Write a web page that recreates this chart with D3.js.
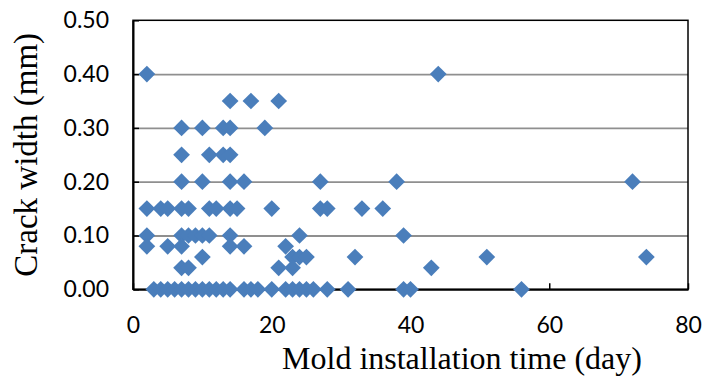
<!DOCTYPE html>
<html>
<head>
<meta charset="utf-8">
<script src="https://cdn.jsdelivr.net/npm/d3@7"></script>
<style>
  body { margin: 0; background: #fff; }
  svg { display: block; }
</style>
</head>
<body>
<svg id="chart" width="704" height="380"></svg>
<script>
// data, grouped by crack width row
const moldDays = [
  2, 44,
  14, 17, 21,
  7, 10, 13, 14, 19,
  7, 11, 13, 14,
  7, 10, 14, 16, 27, 38, 72,
  2, 4, 5, 7, 8, 11, 12, 14, 15, 20, 27, 28, 33, 36,
  2, 7, 8, 9, 10, 11, 14, 24, 39,
  2, 5, 7, 14, 16, 22,
  10, 23, 24, 25, 32, 51, 74,
  7, 8, 21, 23, 43,
  3, 4, 5, 6, 7, 8, 9, 10, 11, 12, 13, 14, 16, 17, 18, 20, 22, 23, 24, 25, 26, 28, 31, 39, 40, 56
];
const crackWidth = [
  0.40, 0.40,
  0.35, 0.35, 0.35,
  0.30, 0.30, 0.30, 0.30, 0.30,
  0.25, 0.25, 0.25, 0.25,
  0.20, 0.20, 0.20, 0.20, 0.20, 0.20, 0.20,
  0.15, 0.15, 0.15, 0.15, 0.15, 0.15, 0.15, 0.15, 0.15, 0.15, 0.15, 0.15, 0.15, 0.15,
  0.10, 0.10, 0.10, 0.10, 0.10, 0.10, 0.10, 0.10, 0.10,
  0.08, 0.08, 0.08, 0.08, 0.08, 0.08,
  0.06, 0.06, 0.06, 0.06, 0.06, 0.06, 0.06,
  0.04, 0.04, 0.04, 0.04, 0.04,
  0, 0, 0, 0, 0, 0, 0, 0, 0, 0, 0, 0, 0, 0, 0, 0, 0, 0, 0, 0, 0, 0, 0, 0, 0, 0
];
const xTicks = [0, 20, 40, 60, 80];
const yTicks = [0, 0.1, 0.2, 0.3, 0.4, 0.5];

const points = moldDays.map((d, i) => ({ day: d, width: crackWidth[i] }));

const plotLeft = 133, plotRight = 688, plotTop = 20.3, plotBottom = 289.3;

const svg = d3.select("#chart");

const x = d3.scaleLinear().domain([0, 80]).range([plotLeft, plotRight]);
const y = d3.scaleLinear().domain([0, 0.5]).range([plotBottom, plotTop]);

// gridlines
svg.append("g")
  .attr("transform", "translate(" + plotLeft + ",0)")
  .call(d3.axisLeft(y).tickValues(yTicks.slice(1, -1)).tickSize(-(plotRight - plotLeft)).tickFormat(""))
  .call(g => g.select(".domain").remove())
  .selectAll("line")
  .attr("stroke", "#8f8f8f")
  .attr("stroke-width", 1.8);

// plot frame
svg.append("rect")
  .attr("x", plotLeft).attr("y", plotTop)
  .attr("width", plotRight - plotLeft).attr("height", plotBottom - plotTop)
  .attr("fill", "none")
  .attr("stroke", "#000")
  .attr("stroke-width", 1.5);

// y axis
const yAxis = svg.append("g")
  .attr("transform", "translate(" + plotLeft + ",0)")
  .call(d3.axisLeft(y).tickValues(yTicks).tickFormat(d3.format(".2f")).tickSize(-6).tickSizeOuter(0).tickPadding(24));

// x axis
const xAxis = svg.append("g")
  .attr("transform", "translate(0," + plotBottom + ")")
  .call(d3.axisBottom(x).tickValues(xTicks).tickSize(-6).tickSizeOuter(0).tickPadding(27));

[yAxis, xAxis].forEach(g => {
  g.select(".domain").attr("stroke", "#000").attr("stroke-width", 2);
  g.selectAll(".tick line").attr("stroke", "#000").attr("stroke-width", 1.5);
  g.selectAll("text")
    .attr("fill", "#000")
    .style("font-family", "Lato, 'Open Sans', sans-serif")
    .style("font-size", "23px");
});

// markers
svg.append("g")
  .selectAll("path")
  .data(points)
  .enter()
  .append("path")
  .attr("d", d3.symbol().type(d3.symbolSquare).size(140))
  .attr("transform", d => "translate(" + x(d.day) + "," + y(d.width) + ") rotate(45)")
  .attr("fill", "#4a7ebb");

// axis titles
svg.append("text")
  .attr("transform", "translate(37," + (plotTop + plotBottom) / 2 + ") rotate(-90)")
  .attr("text-anchor", "middle")
  .style("font-family", "'Liberation Serif', 'Times New Roman', serif")
  .style("font-size", "33px")
  .text("Crack width (mm)");

svg.append("text")
  .attr("x", 462)
  .attr("y", 369)
  .attr("text-anchor", "middle")
  .style("font-family", "'Liberation Serif', 'Times New Roman', serif")
  .style("font-size", "32px")
  .text("Mold installation time (day)");
</script>
</body>
</html>
